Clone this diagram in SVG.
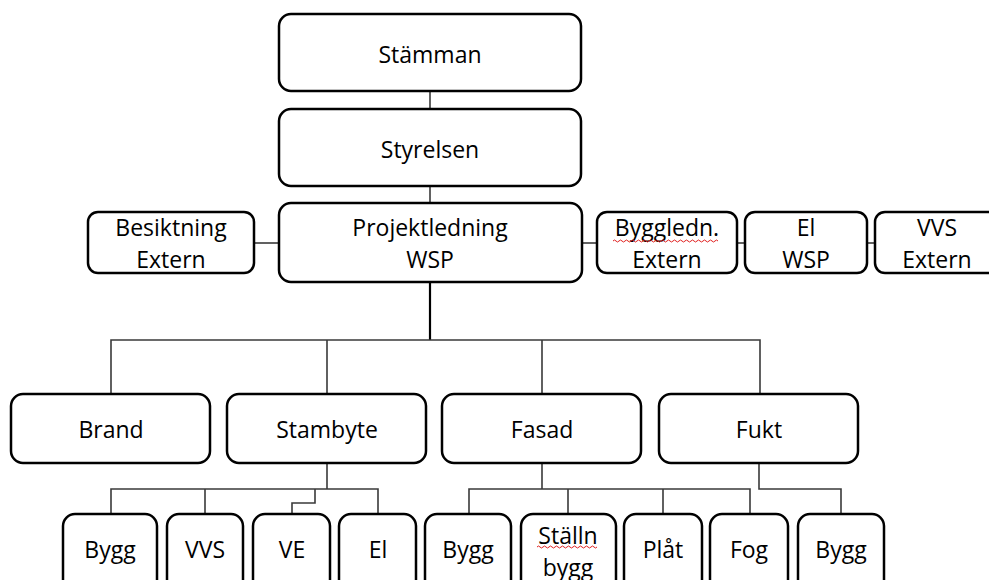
<svg xmlns="http://www.w3.org/2000/svg" width="989" height="580" viewBox="0 0 989 580">
<style>
.box{fill:#fff;stroke:#000;stroke-width:2.5}
.t{font-family:"Open Sans","Noto Sans",sans-serif;font-size:23px;fill:#000;text-anchor:middle}
.c{fill:none;stroke:#3a3a3a;stroke-width:1.6}
.sp{fill:none;stroke:#e02020;stroke-width:1}
</style>
<rect width="989" height="580" fill="#fff"/>
<g id="connectors">
<line class="c" x1="430" y1="91" x2="430" y2="109"/>
<line class="c" x1="430" y1="186" x2="430" y2="203"/>
<line class="c" x1="254" y1="243" x2="279" y2="243"/>
<line class="c" x1="582" y1="243" x2="597" y2="243"/>
<line class="c" x1="737" y1="243" x2="745" y2="243"/>
<line class="c" x1="867" y1="243" x2="875" y2="243"/>
<line x1="430" y1="282" x2="430" y2="340" stroke="#000" stroke-width="2.2"/>
<path class="c" d="M111 394V340H760V394M327 340V394M542 340V394"/>
<path class="c" d="M327 463V489M111 514V489H378V514M205 489V514M315 489V503H292V514"/>
<path class="c" d="M542 463V489M469 514V489H750V514M568 489V514M663 489V514"/>
<path class="c" d="M759 463V489H841V514"/>
</g>
<g id="stamman"><rect class="box" x="279" y="14" width="302" height="77" rx="12"/><text class="t" x="430" y="63">Stämman</text></g>
<g id="styrelsen"><rect class="box" x="279" y="109" width="302" height="77" rx="12"/><text class="t" x="430" y="158">Styrelsen</text></g>
<g id="projektledning"><rect class="box" x="279" y="203" width="303" height="79" rx="12"/><text class="t" x="430" y="236">Projektledning</text><text class="t" x="430" y="268">WSP</text></g>
<g id="besiktning"><rect class="box" x="88" y="212" width="166" height="61" rx="10"/><text class="t" x="171" y="236">Besiktning</text><text class="t" x="171" y="268">Extern</text></g>
<g id="byggledn"><rect class="box" x="597" y="212" width="140" height="61" rx="10"/><text class="t" x="667" y="236">Byggledn.</text><text class="t" x="667" y="268">Extern</text><path class="sp" d="M613 241q1.5-2 3 0t3 0t3 0t3 0t3 0t3 0t3 0t3 0t3 0t3 0t3 0t3 0t3 0t3 0t3 0t3 0t3 0t3 0t3 0t3 0t3 0t3 0t3 0t3 0t3 0t3 0t3 0t3 0t3 0t3 0t3 0t3 0t3 0t3 0t3 0"/></g>
<g id="el-wsp"><rect class="box" x="745" y="212" width="122" height="61" rx="10"/><text class="t" x="806" y="236">El</text><text class="t" x="806" y="268">WSP</text></g>
<g id="vvs-extern"><rect class="box" x="875" y="212" width="130" height="61" rx="10"/><text class="t" x="937" y="236">VVS</text><text class="t" x="937" y="268">Extern</text></g>
<g id="brand"><rect class="box" x="11" y="394" width="199" height="69" rx="12"/><text class="t" x="111" y="438">Brand</text></g>
<g id="stambyte"><rect class="box" x="227" y="394" width="199" height="69" rx="12"/><text class="t" x="327" y="438">Stambyte</text></g>
<g id="fasad"><rect class="box" x="442" y="394" width="199" height="69" rx="12"/><text class="t" x="542" y="438">Fasad</text></g>
<g id="fukt"><rect class="box" x="659" y="394" width="199" height="69" rx="12"/><text class="t" x="759" y="438">Fukt</text></g>
<g id="s-bygg"><rect class="box" x="63" y="514" width="94" height="90" rx="12"/><text class="t" x="110" y="558">Bygg</text></g>
<g id="s-vvs"><rect class="box" x="167" y="514" width="76" height="90" rx="12"/><text class="t" x="205" y="558">VVS</text></g>
<g id="s-ve"><rect class="box" x="253" y="514" width="77" height="90" rx="12"/><text class="t" x="292" y="558">VE</text></g>
<g id="s-el"><rect class="box" x="339" y="514" width="77" height="90" rx="12"/><text class="t" x="378" y="558">El</text></g>
<g id="f-bygg"><rect class="box" x="425" y="514" width="86" height="90" rx="12"/><text class="t" x="468" y="558">Bygg</text></g>
<g id="f-stalln"><rect class="box" x="521" y="514" width="95" height="90" rx="12"/><text class="t" x="568" y="544">Ställn</text><text class="t" x="568" y="576">bygg</text><path class="sp" d="M537 547q1.5-2 3 0t3 0t3 0t3 0t3 0t3 0t3 0t3 0t3 0t3 0t3 0t3 0t3 0t3 0t3 0t3 0t3 0t3 0t3 0t3 0"/></g>
<g id="f-plat"><rect class="box" x="624" y="514" width="78" height="90" rx="12"/><text class="t" x="663" y="558">Plåt</text></g>
<g id="f-fog"><rect class="box" x="710" y="514" width="78" height="90" rx="12"/><text class="t" x="749" y="558">Fog</text></g>
<g id="k-bygg"><rect class="box" x="798" y="514" width="86" height="90" rx="12"/><text class="t" x="841" y="558">Bygg</text></g>
</svg>
